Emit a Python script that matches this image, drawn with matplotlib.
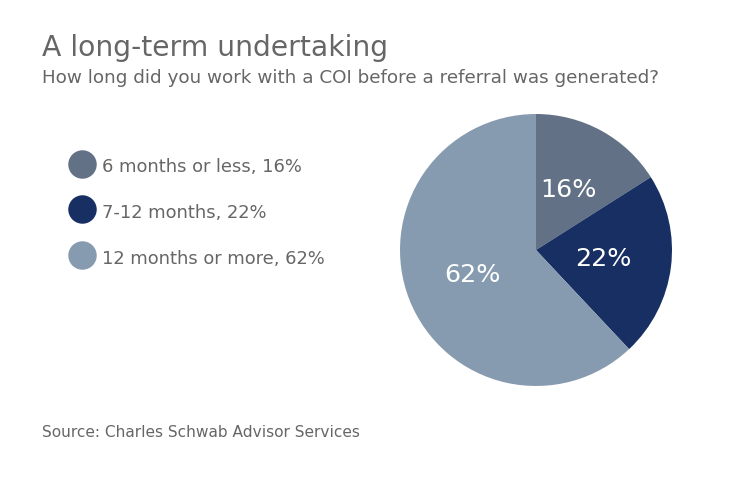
import matplotlib.pyplot as plt
from matplotlib.lines import Line2D

# data
categories = ["6 months or less", "7-12 months", "12 months or more"]
shares = [16, 22, 62]
colors = ["#627185", "#172f63", "#879bb0"]

title = "A long-term undertaking"
subtitle = "How long did you work with a COI before a referral was generated?"
source = "Source: Charles Schwab Advisor Services"

W, H = 740, 482
fig = plt.figure(figsize=(W / 100, H / 100), dpi=100)
fig.patch.set_facecolor("white")
plt.rcParams["font.family"] = ["DejaVu Sans"]
grey = "#666666"

fig.text(42 / W, 1 - 56 / H, title, fontsize=20.3, color=grey, va="baseline")
fig.text(42 / W, 1 - 83 / H, subtitle, fontsize=13.2, color=grey, va="baseline")
fig.text(42 / W, 1 - 437 / H, source, fontsize=11.05, color=grey, va="baseline")

# pie: centre (536, 250) px, radius 136 px
cx, cy, r = 536, 250, 136
ax = fig.add_axes([(cx - r) / W, 1 - (cy + r) / H, 2 * r / W, 2 * r / H])
wedges, texts = ax.pie(shares, colors=colors, startangle=90, counterclock=False,
                       labels=[f"{v}%" for v in shares], labeldistance=0.5,
                       textprops=dict(color="white", fontsize=18.3, ha="center", va="center"),
                       wedgeprops=dict(linewidth=0))
ax.set_xlim(-1, 1)
ax.set_ylim(-1, 1)
ax.set_aspect("equal")
ax.axis("off")

fs = 12.9
handles = [Line2D([], [], linestyle="none", marker="o", markersize=20.5,
                  markerfacecolor=c, markeredgewidth=0) for c in colors]
labels = [f"{c}, {v}%" for c, v in zip(categories, shares)]
leg = fig.legend(handles, labels, loc="upper left",
                 bbox_to_anchor=(63.6 / W, 1 - 155 / H), frameon=False,
                 fontsize=fs, handlelength=2.0, handleheight=1.6,
                 handletextpad=0.15, labelspacing=1.27, borderpad=0, borderaxespad=0)
for t in leg.get_texts():
    t.set_color(grey)

fig.savefig("out.png", dpi=100)
